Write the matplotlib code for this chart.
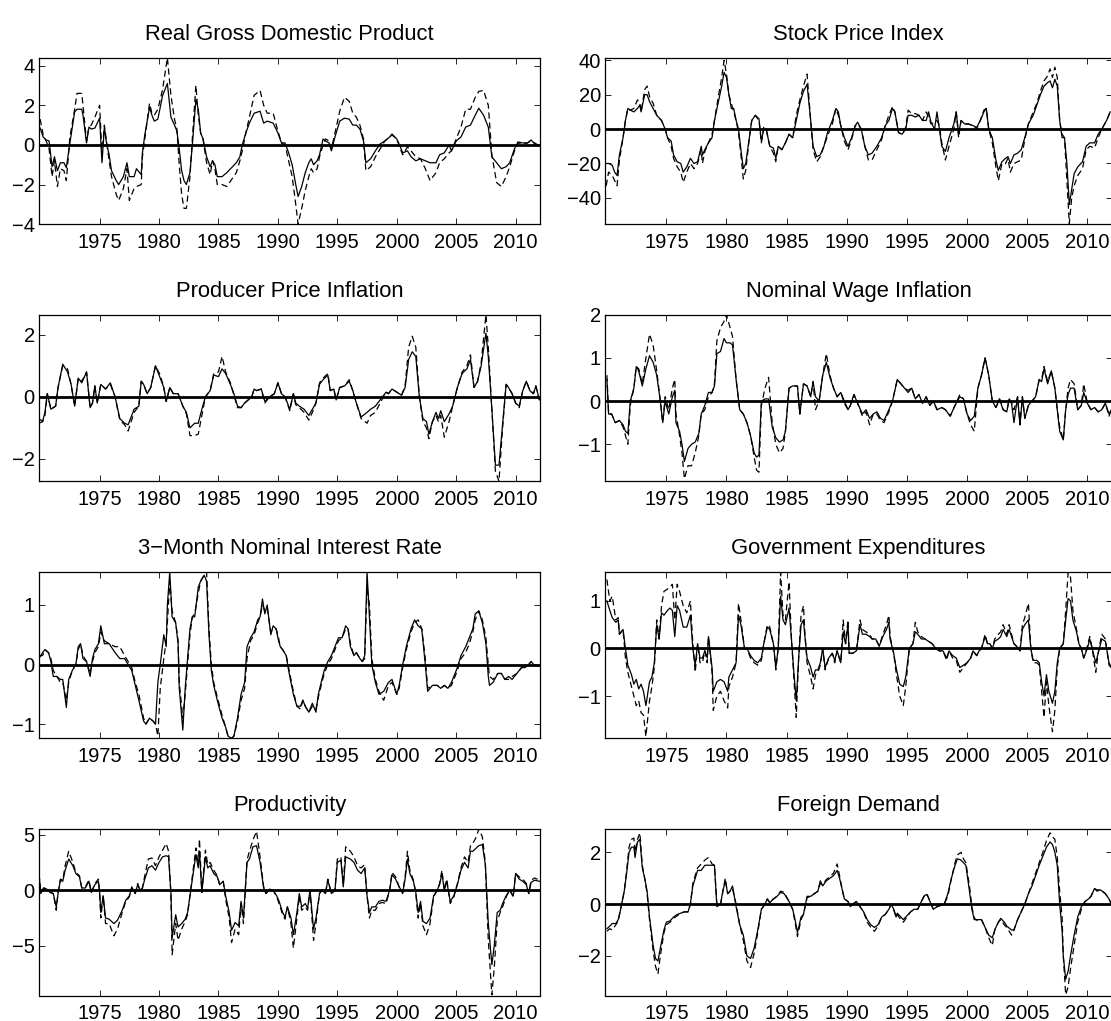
import matplotlib
matplotlib.use('Agg')
import matplotlib.pyplot as plt

plt.rcParams['font.family'] = ['Liberation Sans', 'DejaVu Sans']

# ---------------- Data ----------------
gdp_t = [1970.0,1970.25,1970.5,1970.75,1971.0,1971.2,1971.45,1971.7,1972.0,1972.2,
         1972.5,1972.9,1973.1,1973.5,1973.6,1973.9,1974.1,1974.3,1974.6,1974.8,
         1975.0,1975.2,1975.4,1975.55,1975.8,1976.0,1976.4,1976.6,1977.0,1977.3,
         1977.5,1977.9,1978.1,1978.5,1978.6,1978.8,1979.2,1979.4,1979.6,1979.9,
         1980.3,1980.7,1981.0,1981.3,1981.5,1981.7,1981.9,1982.1,1982.3,1982.6,
         1982.8,1983.1,1983.3,1983.5,1983.7,1984.0,1984.3,1984.5,1984.7,1984.9,
         1985.3,1985.7,1986.5,1986.8,1987.0,1987.3,1987.6,1988.0,1988.5,1988.8,
         1989.1,1989.6,1990.0,1990.3,1990.6,1990.9,1991.2,1991.5,1991.7,1992.0,
         1992.3,1992.6,1992.8,1993.0,1993.3,1993.5,1993.8,1994.0,1994.3,1994.5,
         1994.8,1995.2,1995.6,1996.0,1996.3,1996.6,1996.9,1997.2,1997.4,1997.8,
         1998.2,1998.6,1999.0,1999.4,1999.6,2000.0,2000.3,2000.5,2000.9,2001.2,
         2001.6,2002.0,2002.4,2002.8,2003.3,2003.6,2004.0,2004.4,2004.6,2005.0,
         2005.4,2005.8,2006.2,2006.6,2006.9,2007.3,2007.7,2008.0,2008.4,2008.8,
         2009.2,2009.5,2009.9,2010.2,2010.6,2011.0,2011.3,2011.6,2012.0]
gdp_solid = [0.85,0.4,0.25,0.2,-1.1,-0.6,-1.3,-0.9,-0.9,-1.15,
             0.1,1.67,1.8,1.8,1.5,0.1,0.9,0.8,0.85,1.1,
             1.35,-0.9,0.9,0.2,-0.5,-1.3,-1.8,-2.0,-1.6,-0.9,
             -1.6,-1.6,-1.2,-1.5,-0.4,0.5,1.9,1.5,1.2,1.3,
             2.5,3.1,1.4,1.0,0.7,-0.2,-1.3,-1.8,-2.0,-1.4,
             0.0,2.3,1.8,0.6,0.3,-0.6,-1.1,-0.8,-1.0,-1.6,
             -1.6,-1.4,-0.9,-0.6,0.0,0.6,1.1,1.6,1.7,1.1,
             1.2,1.1,0.6,0.1,0.1,-0.4,-1.0,-2.0,-2.6,-2.1,
             -1.4,-0.9,-0.7,-1.0,-0.8,-0.5,0.3,0.2,0.1,-0.3,
             0.4,1.2,1.35,1.3,1.0,1.0,0.8,0.2,-0.9,-0.7,
             -0.3,0.05,0.2,0.4,0.55,0.3,-0.1,-0.4,-0.3,-0.6,
             -0.8,-0.7,-0.8,-0.9,-0.9,-0.5,-0.4,0.0,-0.3,0.2,
             0.4,0.9,1.0,1.5,1.85,1.5,0.9,-0.6,-0.9,-1.2,
             -1.1,-0.9,-0.2,0.15,0.1,0.1,0.25,0.05,-0.05]
gdp_dashed = [1.3,0.5,0.2,-0.2,-1.6,-0.8,-2.1,-1.2,-1.3,-1.8,
              0.4,1.8,2.6,2.6,2.0,0.2,0.9,1.0,1.4,1.7,
              2.0,-0.5,1.0,0.3,-0.8,-1.6,-2.5,-2.8,-2.2,-1.2,
              -2.8,-2.2,-2.1,-2.0,-0.6,0.3,2.1,1.6,1.5,1.8,
              2.8,4.4,2.5,1.3,0.8,-1.0,-2.5,-3.2,-3.2,-1.6,
              0.3,3.0,1.5,0.6,0.3,-0.9,-1.5,-0.8,-1.2,-2.0,
              -2.0,-2.1,-1.4,-0.8,-0.3,0.6,1.4,2.5,2.75,2.0,
              1.6,1.6,0.7,0.1,0.0,-0.8,-1.6,-3.0,-4.0,-3.2,
              -2.3,-1.6,-1.2,-1.4,-1.2,-0.6,0.0,0.3,0.2,-0.2,
              0.6,1.7,2.4,2.2,1.6,1.4,1.0,0.3,-1.3,-1.1,
              -0.6,-0.2,0.2,0.4,0.5,0.3,-0.2,-0.5,-0.1,-0.3,
              -0.6,-0.7,-1.2,-1.8,-1.4,-0.9,-0.7,-0.4,-0.3,0.3,
              0.9,1.8,1.8,2.4,2.7,2.75,2.0,-0.5,-1.9,-2.1,
              -1.6,-1.1,-0.3,0.1,0.05,0.1,0.2,0.1,-0.05]

stock_t = [1970.0,1970.2,1970.5,1970.7,1970.9,1971.1,1971.4,1971.6,1971.8,1972.0,
           1972.3,1972.6,1972.8,1972.9,1973.2,1973.4,1973.6,1973.9,1974.2,1974.6,
           1974.9,1975.1,1975.4,1975.6,1975.9,1976.2,1976.4,1976.7,1977.0,1977.3,
           1977.6,1977.9,1978.0,1978.2,1978.5,1978.8,1979.0,1979.3,1979.6,1979.8,
           1980.0,1980.2,1980.4,1980.6,1980.8,1981.0,1981.2,1981.4,1981.6,1981.9,
           1982.1,1982.4,1982.7,1982.9,1983.1,1983.3,1983.6,1983.9,1984.1,1984.3,
           1984.6,1984.9,1985.2,1985.5,1985.8,1986.1,1986.4,1986.7,1987.0,1987.2,
           1987.5,1987.8,1988.1,1988.4,1988.8,1989.1,1989.3,1989.5,1989.8,1990.1,
           1990.4,1990.7,1990.9,1991.2,1991.5,1991.8,1992.1,1992.5,1992.9,1993.2,
           1993.5,1993.8,1994.0,1994.3,1994.6,1994.9,1995.1,1995.4,1995.7,1996.0,
           1996.3,1996.6,1996.8,1997.0,1997.3,1997.5,1997.7,1997.9,1998.2,1998.5,
           1998.9,1999.1,1999.3,1999.5,1999.8,2000.1,2000.5,2000.8,2001.1,2001.4,
           2001.6,2001.8,2002.1,2002.4,2002.6,2002.9,2003.2,2003.4,2003.6,2003.9,
           2004.2,2004.5,2004.8,2005.1,2005.5,2005.8,2006.1,2006.4,2006.7,2006.9,
           2007.1,2007.3,2007.5,2007.7,2007.9,2008.1,2008.3,2008.5,2008.7,2008.9,
           2009.2,2009.6,2009.9,2010.2,2010.6,2010.9,2011.2,2011.6,2011.9]
stock_solid = [-20,-20,-21,-25,-27,-15,-5,5,12,11,
               10,12,14,10,20,20,16,12,8,5,
               0,-5,-7,-15,-19,-20,-25,-22,-17,-20,
               -19,-10,-15,-12,-8,-5,5,15,25,33,
               30,20,12,12,5,0,-12,-23,-20,-5,
               5,8,6,-7,0,0,-10,-11,-17,-10,
               -12,-8,-3,-5,5,15,22,26,5,-10,
               -16,-15,-10,-2,5,12,10,2,-5,-10,
               -5,2,4,0,-10,-15,-14,-10,-5,2,
               5,12,10,-2,-3,0,8,8,7,8,
               5,5,10,4,0,10,0,-10,-13,-5,
               3,10,-3,5,3,3,2,1,5,10,
               12,0,-5,-18,-24,-19,-17,-16,-20,-15,
               -14,-12,-5,3,8,14,20,25,27,28,
               24,29,25,5,-5,-5,-20,-44,-35,-26,
               -22,-19,-10,-8,-8,-3,0,5,10]
stock_dashed = [-33,-25,-27,-30,-33,-18,-5,5,12,11,
                12,17,15,10,23,25,19,15,8,5,
                0,-5,-10,-17,-22,-25,-31,-25,-20,-23,
                -20,-12,-20,-13,-8,-3,5,18,30,40,
                32,20,15,10,5,-2,-15,-29,-24,-5,
                5,8,5,-8,1,0,-10,-14,-19,-10,
                -12,-8,-3,-5,8,17,25,32,5,-12,
                -19,-16,-10,-4,3,12,8,2,-7,-12,
                -6,2,3,0,-10,-18,-18,-12,-6,2,
                8,13,10,-2,-3,1,11,9,9,8,
                5,10,7,3,4,5,2,-8,-18,-10,
                0,10,-5,5,3,3,2,0,5,11,
                12,0,-8,-22,-30,-20,-20,-17,-25,-20,
                -19,-18,-6,3,10,15,22,28,31,35,
                30,36,30,5,-3,-5,-30,-55,-40,-33,
                -27,-23,-12,-10,-11,-5,0,5,10]

ppi_t = [1969.9,1970.2,1970.4,1970.6,1970.9,1971.3,1971.5,1971.9,1972.3,1972.6,
         1972.9,1973.2,1973.5,1973.9,1974.2,1974.4,1974.6,1974.8,1975.1,1975.5,
         1975.9,1976.3,1976.7,1977.1,1977.4,1977.9,1978.3,1978.5,1978.7,1979.0,
         1979.3,1979.7,1980.1,1980.4,1980.6,1980.9,1981.2,1981.6,1982.0,1982.3,
         1982.6,1983.0,1983.3,1983.6,1983.9,1984.3,1984.6,1985.0,1985.3,1985.6,
         1986.0,1986.3,1986.6,1986.9,1987.2,1987.5,1987.8,1988.0,1988.2,1988.6,
         1988.9,1989.3,1989.7,1990.0,1990.3,1990.6,1991.0,1991.3,1991.5,1991.8,
         1992.2,1992.6,1992.9,1993.2,1993.5,1993.8,1994.2,1994.4,1994.7,1994.9,
         1995.2,1995.6,1996.0,1996.3,1996.6,1997.0,1997.5,1997.8,1998.2,1998.6,
         1999.1,1999.3,1999.6,2000.0,2000.4,2000.7,2001.0,2001.3,2001.6,2001.9,
         2002.2,2002.5,2002.7,2003.0,2003.3,2003.5,2003.7,2004.0,2004.4,2004.7,
         2005.1,2005.5,2005.9,2006.2,2006.5,2006.8,2007.1,2007.5,2007.7,2008.0,
         2008.3,2008.6,2008.9,2009.2,2009.4,2009.7,2010.0,2010.3,2010.6,2010.9,
         2011.2,2011.5,2011.7,2012.0]
ppi_solid = [-0.7,-0.8,-0.5,0.1,-0.4,-0.3,0.3,1.05,0.8,0.4,
             -0.3,0.6,0.45,0.8,-0.35,-0.2,0.35,-0.2,0.4,0.25,
             0.45,0.0,-0.7,-0.85,-0.9,-0.4,-0.3,0.5,0.4,0.1,
             0.3,1.0,0.6,0.3,-0.15,0.3,0.1,0.1,-0.3,-0.5,
             -1.0,-0.85,-0.85,-0.4,0.0,0.2,0.7,0.65,0.9,0.75,
             0.4,0.1,-0.3,-0.35,-0.2,-0.1,0.0,0.25,0.2,0.25,
             -0.15,0.0,0.1,0.45,0.1,0.0,-0.4,0.1,-0.2,-0.3,
             -0.4,-0.6,-0.4,-0.2,0.4,0.55,0.7,0.2,0.25,-0.1,
             0.3,0.35,0.5,0.2,-0.2,-0.65,-0.5,-0.4,-0.3,-0.1,
             0.15,0.1,0.25,0.15,0.05,0.3,1.2,1.45,1.3,0.0,
             -0.7,-0.8,-1.2,-0.8,-0.5,-0.7,-0.45,-0.8,-0.55,-0.3,
             0.3,0.75,0.9,1.2,0.3,0.5,1.0,2.05,1.3,-0.4,
             -2.2,-2.2,-0.9,0.4,0.3,0.1,-0.2,-0.3,0.2,0.5,
             0.2,0.1,0.35,-0.1]
ppi_dashed = [-0.85,-0.8,-0.6,0.1,-0.4,-0.3,0.3,1.0,0.9,0.4,
              -0.3,0.6,0.5,0.8,-0.35,-0.2,0.35,-0.2,0.4,0.25,
              0.4,0.0,-0.75,-0.9,-1.1,-0.5,-0.3,0.5,0.4,0.1,
              0.3,1.0,0.7,0.3,-0.15,0.3,0.1,0.1,-0.3,-0.55,
              -1.25,-1.25,-1.2,-0.6,0.0,0.2,0.75,0.8,1.3,0.8,
              0.45,0.05,-0.35,-0.35,-0.2,-0.1,0.0,0.25,0.2,0.25,
              -0.2,0.0,0.1,0.45,0.1,0.0,-0.45,0.1,-0.25,-0.35,
              -0.5,-0.75,-0.5,-0.2,0.45,0.6,0.75,0.2,0.25,-0.1,
              0.3,0.35,0.55,0.2,-0.2,-0.7,-0.85,-0.6,-0.5,-0.2,
              0.15,0.1,0.25,0.15,0.05,0.35,1.6,1.95,1.6,0.0,
              -0.8,-1.0,-1.35,-0.8,-0.6,-0.8,-0.6,-1.3,-0.8,-0.3,
              0.3,0.8,1.0,1.35,0.3,0.5,1.1,2.64,1.6,-0.4,
              -2.4,-2.72,-1.0,0.4,0.3,0.1,-0.2,-0.35,0.2,0.5,
              0.2,0.1,0.35,-0.1]

wage_t = [1970.06,1970.2,1970.45,1970.75,1971.1,1971.4,1971.6,1971.8,1972.0,1972.3,
          1972.5,1972.7,1973.0,1973.3,1973.6,1973.9,1974.2,1974.5,1974.7,1974.9,
          1975.2,1975.5,1975.7,1975.8,1976.1,1976.3,1976.5,1976.8,1977.1,1977.4,
          1977.7,1977.9,1978.2,1978.5,1978.8,1979.0,1979.2,1979.5,1979.8,1980.0,
          1980.3,1980.5,1980.8,1981.1,1981.4,1981.7,1982.0,1982.3,1982.5,1982.7,
          1982.9,1983.2,1983.5,1983.8,1984.1,1984.4,1984.7,1984.9,1985.2,1985.5,
          1985.9,1986.1,1986.4,1986.7,1987.0,1987.2,1987.4,1987.7,1988.0,1988.3,
          1988.6,1988.9,1989.2,1989.5,1989.8,1990.1,1990.3,1990.6,1990.9,1991.3,
          1991.6,1991.9,1992.2,1992.5,1992.8,1993.1,1993.5,1993.8,1994.2,1994.5,
          1994.8,1995.1,1995.4,1995.7,1996.0,1996.3,1996.6,1996.9,1997.2,1997.5,
          1997.9,1998.2,1998.6,1999.0,1999.4,1999.7,2000.0,2000.3,2000.6,2000.9,
          2001.2,2001.5,2001.8,2002.1,2002.4,2002.7,2003.0,2003.3,2003.5,2003.7,
          2003.9,2004.2,2004.4,2004.6,2004.8,2005.1,2005.4,2005.7,2006.0,2006.2,
          2006.4,2006.7,2007.0,2007.3,2007.5,2007.7,2008.0,2008.2,2008.4,2008.6,
          2008.9,2009.2,2009.5,2009.7,2010.0,2010.3,2010.6,2010.9,2011.2,2011.5,
          2011.8,2012.0]
wage_solid = [0.5,-0.3,-0.3,-0.5,-0.45,-0.55,-0.7,-0.75,0.0,0.3,
              0.8,0.7,0.35,0.75,1.05,0.9,0.6,0.0,-0.5,0.0,
              -0.3,0.1,0.25,-0.5,-0.7,-1.0,-1.4,-1.1,-1.0,-0.95,
              -0.75,-0.3,-0.1,0.2,0.2,0.35,1.1,1.15,1.45,1.35,
              1.35,1.3,0.5,-0.2,-0.3,-0.5,-0.8,-1.2,-1.3,-1.25,
              0.0,0.05,0.05,-0.6,-0.85,-0.95,-0.9,-0.7,0.3,0.35,
              0.35,-0.3,0.4,0.35,0.1,0.45,0.1,0.0,0.6,0.9,
              0.55,0.3,0.1,0.2,0.0,-0.2,-0.1,0.15,-0.05,-0.3,
              -0.2,-0.4,-0.3,-0.25,-0.4,-0.45,-0.2,0.0,0.5,0.4,
              0.3,0.2,0.3,0.05,0.15,-0.05,0.1,-0.1,0.0,-0.2,
              -0.15,-0.2,-0.35,-0.1,0.1,0.05,-0.3,-0.45,-0.35,0.3,
              0.6,1.0,0.6,0.0,-0.15,0.05,-0.2,-0.25,0.05,-0.05,
              -0.5,0.1,-0.55,0.1,-0.4,-0.1,0.0,0.1,0.5,0.45,
              0.75,0.4,0.7,0.3,-0.2,-0.7,-0.9,-0.2,0.15,0.3,
              0.3,-0.2,-0.1,0.2,-0.05,-0.2,-0.15,-0.25,-0.2,-0.05,
              -0.3,-0.2]
wage_dashed = [0.6,-0.3,-0.3,-0.5,-0.45,-0.6,-0.8,-1.0,-0.1,0.3,
               0.8,0.75,0.4,1.0,1.55,1.3,0.7,0.0,-0.5,0.1,
               -0.2,0.3,0.5,-0.3,-0.8,-1.2,-1.8,-1.5,-1.5,-1.2,
               -0.8,-0.3,-0.2,0.1,0.2,0.4,1.4,1.7,1.85,2.0,
               1.7,1.5,0.5,-0.2,-0.3,-0.5,-0.8,-1.3,-1.6,-1.65,
               -0.1,0.3,0.55,-0.5,-1.0,-1.2,-1.1,-0.7,0.3,0.35,
               0.35,-0.3,0.4,0.35,0.1,0.45,-0.2,0.0,0.6,1.1,
               0.6,0.3,0.1,0.2,-0.05,-0.2,-0.1,0.15,-0.05,-0.35,
               -0.25,-0.55,-0.3,-0.3,-0.45,-0.5,-0.25,0.0,0.5,0.4,
               0.3,0.25,0.3,0.05,0.15,-0.05,0.1,-0.1,0.0,-0.2,
               -0.15,-0.2,-0.35,-0.1,0.15,0.05,-0.3,-0.55,-0.7,0.3,
               0.6,1.0,0.6,0.0,-0.15,0.05,-0.2,-0.25,0.05,-0.05,
               -0.2,0.1,-0.55,0.1,-0.4,-0.1,0.0,0.1,0.5,0.5,
               0.8,0.45,0.7,0.3,-0.2,-0.6,-0.9,-0.2,0.3,0.5,
               0.4,-0.2,-0.1,0.4,-0.05,-0.2,-0.15,-0.25,-0.2,-0.05,
               -0.35,-0.2]

rate_t = [1969.9,1970.2,1970.4,1970.7,1970.9,1971.1,1971.4,1971.7,1971.9,1972.2,
          1972.4,1972.7,1973.0,1973.2,1973.4,1973.6,1973.9,1974.2,1974.4,1974.6,
          1974.9,1975.1,1975.4,1975.8,1976.3,1976.7,1977.1,1977.4,1977.7,1978.0,
          1978.3,1978.7,1978.9,1979.2,1979.5,1979.7,1979.9,1980.1,1980.4,1980.6,
          1980.7,1980.9,1981.1,1981.4,1981.6,1981.7,1982.0,1982.2,1982.4,1982.6,
          1982.8,1983.0,1983.3,1983.5,1983.8,1984.0,1984.2,1984.4,1984.6,1984.9,
          1985.3,1985.6,1985.8,1986.1,1986.3,1986.6,1986.9,1987.2,1987.4,1987.7,
          1988.0,1988.3,1988.5,1988.7,1988.9,1989.1,1989.4,1989.6,1989.85,1990.05,
          1990.2,1990.4,1990.7,1990.9,1991.3,1991.6,1991.9,1992.1,1992.3,1992.6,
          1992.9,1993.2,1993.4,1993.7,1993.9,1994.2,1994.5,1994.8,1995.1,1995.4,
          1995.7,1995.9,1996.1,1996.4,1996.6,1996.9,1997.1,1997.3,1997.5,1997.7,
          1997.9,1998.2,1998.5,1998.9,1999.3,1999.6,2000.0,2000.2,2000.5,2000.8,
          2001.2,2001.5,2001.8,2002.1,2002.4,2002.6,2003.0,2003.4,2003.7,2004.0,
          2004.3,2004.6,2005.1,2005.4,2005.8,2006.1,2006.4,2006.6,2006.9,2007.2,
          2007.5,2007.7,2007.8,2008.1,2008.5,2008.8,2009.1,2009.4,2009.7,2010.1,
          2010.5,2010.8,2011.1,2011.3,2011.6,2012.0]
rate_solid = [0.1,0.2,0.25,0.2,0.05,-0.2,-0.2,-0.25,-0.25,-0.72,
              -0.25,-0.1,0.0,0.3,0.35,0.1,0.05,-0.2,0.1,0.25,
              0.35,0.65,0.35,0.35,0.2,0.1,0.1,0.0,-0.1,-0.35,
              -0.6,-0.95,-1.0,-0.9,-0.95,-1.0,-0.3,0.0,0.5,0.3,
              1.0,1.55,0.8,0.7,0.35,-0.4,-1.1,-0.4,0.1,0.6,
              0.8,0.8,1.3,1.4,1.5,1.4,0.5,-0.1,-0.35,-0.6,
              -0.9,-1.05,-1.2,-1.24,-1.2,-0.9,-0.5,-0.3,0.3,0.45,
              0.55,0.75,0.8,1.1,0.85,1.0,0.5,0.65,0.6,0.4,
              0.3,0.25,0.15,-0.1,-0.5,-0.7,-0.7,-0.6,-0.7,-0.8,
              -0.65,-0.8,-0.5,-0.25,-0.1,0.05,0.15,0.3,0.45,0.45,
              0.65,0.6,0.3,0.15,0.2,0.1,0.05,0.15,1.55,0.8,
              0.0,-0.3,-0.5,-0.45,-0.3,-0.25,-0.5,-0.35,0.0,0.3,
              0.6,0.75,0.65,0.6,0.0,-0.45,-0.35,-0.35,-0.4,-0.35,
              -0.4,-0.3,-0.05,0.15,0.3,0.45,0.6,0.85,0.9,0.7,
              0.35,-0.2,-0.35,-0.3,-0.15,-0.15,-0.25,-0.2,-0.25,-0.15,
              -0.05,-0.05,0.0,0.05,-0.02,-0.02]
rate_dashed = [0.15,0.15,0.25,0.2,0.1,-0.1,-0.2,-0.3,-0.3,-0.6,
               -0.3,-0.1,0.0,0.25,0.35,0.15,0.05,-0.15,0.05,0.2,
               0.3,0.55,0.4,0.35,0.3,0.3,0.15,0.05,-0.05,-0.3,
               -0.5,-0.9,-1.0,-0.9,-0.95,-1.0,-1.2,-0.4,0.1,0.4,
               0.7,1.4,0.9,0.7,0.4,-0.3,-0.9,-0.5,0.0,0.5,
               0.8,0.85,1.2,1.4,1.5,1.55,0.6,0.0,-0.3,-0.55,
               -0.85,-1.05,-1.2,-1.24,-1.2,-0.95,-0.6,-0.4,0.1,0.4,
               0.5,0.7,0.8,1.0,0.9,0.95,0.55,0.6,0.6,0.45,
               0.3,0.25,0.15,-0.05,-0.45,-0.7,-0.75,-0.6,-0.7,-0.8,
               -0.7,-0.75,-0.55,-0.3,-0.15,0.0,0.1,0.25,0.4,0.45,
               0.6,0.6,0.35,0.15,0.2,0.1,0.05,0.1,1.3,1.0,
               0.1,-0.25,-0.45,-0.6,-0.35,-0.3,-0.5,-0.4,-0.05,0.25,
               0.55,0.7,0.75,0.6,0.1,-0.4,-0.35,-0.35,-0.4,-0.35,
               -0.4,-0.35,-0.1,0.1,0.2,0.35,0.55,0.75,0.9,0.75,
               0.45,0.0,-0.2,-0.25,-0.15,-0.15,-0.25,-0.25,-0.2,-0.15,
               -0.05,-0.05,0.0,0.05,0.0,-0.02]

gov_t = [1970.06,1970.3,1970.5,1970.8,1971.0,1971.1,1971.4,1971.6,1971.8,1972.1,
         1972.3,1972.5,1972.7,1972.9,1973.1,1973.3,1973.6,1973.8,1974.0,1974.2,
         1974.4,1974.6,1974.8,1975.1,1975.3,1975.5,1975.7,1975.9,1976.1,1976.4,
         1976.7,1977.0,1977.2,1977.4,1977.6,1977.8,1978.0,1978.2,1978.4,1978.5,
         1978.8,1978.9,1979.2,1979.5,1979.8,1980.1,1980.2,1980.5,1980.6,1980.8,
         1981.0,1981.2,1981.5,1981.7,1982.0,1982.3,1982.6,1982.9,1983.1,1983.4,
         1983.6,1983.9,1984.1,1984.3,1984.5,1984.7,1984.9,1985.2,1985.4,1985.6,
         1985.8,1986.0,1986.2,1986.4,1986.5,1986.7,1987.0,1987.2,1987.4,1987.6,
         1987.8,1988.0,1988.2,1988.5,1988.8,1989.0,1989.2,1989.5,1989.7,1989.9,
         1990.1,1990.2,1990.5,1990.8,1991.1,1991.3,1991.6,1991.9,1992.1,1992.4,
         1992.7,1993.0,1993.3,1993.5,1993.6,1993.9,1994.1,1994.4,1994.7,1994.9,
         1995.2,1995.5,1995.7,1995.9,1996.2,1996.5,1996.8,1997.1,1997.4,1997.7,
         1998.0,1998.3,1998.5,1998.8,1999.1,1999.4,1999.7,2000.0,2000.3,2000.5,
         2000.8,2001.0,2001.2,2001.5,2001.7,2001.9,2002.1,2002.3,2002.6,2002.8,
         2003.0,2003.3,2003.5,2003.7,2003.9,2004.1,2004.4,2004.6,2004.8,2005.1,
         2005.3,2005.5,2005.8,2006.0,2006.2,2006.4,2006.6,2006.8,2007.1,2007.3,
         2007.5,2007.7,2008.0,2008.2,2008.4,2008.6,2008.8,2009.1,2009.3,2009.5,
         2009.7,2010.0,2010.2,2010.4,2010.7,2010.9,2011.2,2011.5,2011.8,2012.0]
gov_solid = [1.0,0.8,0.65,0.55,0.6,0.3,0.4,0.0,-0.35,-0.55,
             -0.75,-0.65,-0.85,-0.75,-0.9,-1.2,-0.7,-0.6,-0.3,0.5,
             0.2,0.75,0.7,0.8,0.85,0.8,0.25,0.9,0.8,0.45,
             0.45,0.7,0.0,-0.35,0.1,-0.2,-0.2,-0.05,-0.2,0.25,
             -0.4,-0.9,-0.7,-0.65,-0.7,-0.9,-0.6,-0.45,-0.4,-0.3,
             0.7,0.5,0.0,0.0,-0.15,-0.25,-0.3,-0.2,0.1,0.45,
             0.4,0.1,-0.4,0.0,1.1,0.6,0.5,0.85,0.2,-0.5,
             -1.1,-0.2,0.5,0.6,0.3,-0.2,-0.4,-0.6,-0.45,-0.45,
             -0.3,0.0,-0.4,-0.2,-0.1,-0.25,-0.05,-0.3,0.35,0.1,
             0.5,-0.1,-0.1,-0.05,0.5,0.3,0.3,0.25,0.2,0.2,
             0.05,0.25,0.4,0.55,0.2,-0.1,-0.4,-0.75,-0.8,-0.6,
             0.0,0.1,0.35,0.3,0.2,0.2,0.15,0.1,0.0,-0.05,
             -0.05,-0.2,-0.05,-0.15,-0.2,-0.4,-0.35,-0.3,-0.2,-0.05,
             -0.15,-0.05,0.0,0.25,0.1,0.1,0.0,0.15,0.2,0.25,
             0.4,0.25,0.4,0.25,0.1,0.05,-0.05,0.4,0.5,0.6,
             0.0,-0.25,-0.25,-0.3,-0.7,-1.0,-0.55,-0.9,-1.15,-0.9,
             -0.3,0.0,0.1,0.6,1.05,1.0,0.6,0.35,0.1,0.0,
             -0.2,0.0,0.2,0.0,-0.3,-0.1,0.2,0.15,-0.3,-0.4]
gov_dashed = [1.45,1.0,1.1,0.6,0.65,0.3,0.4,-0.2,-0.5,-0.8,
              -1.0,-1.2,-1.1,-1.35,-1.4,-1.85,-1.1,-0.8,-0.4,0.6,
              0.2,0.9,1.2,1.25,1.3,1.35,0.6,1.35,1.2,0.9,
              0.75,1.0,0.1,-0.5,0.1,-0.3,-0.3,-0.05,-0.3,0.25,
              -0.5,-1.3,-1.0,-0.9,-1.1,-1.25,-0.8,-0.6,-0.5,-0.3,
              0.95,0.6,0.0,0.0,-0.2,-0.3,-0.35,-0.25,0.1,0.5,
              0.45,0.1,-0.45,0.0,1.6,0.7,0.6,1.4,0.2,-0.6,
              -1.45,-0.2,0.7,0.9,0.4,-0.3,-0.6,-0.85,-0.55,-0.5,
              -0.35,0.0,-0.45,-0.2,-0.1,-0.3,-0.05,-0.3,0.6,0.1,
              0.6,-0.1,-0.1,-0.05,0.6,0.4,0.35,0.3,0.2,0.2,
              0.05,0.3,0.5,0.7,0.25,-0.1,-0.5,-1.0,-1.2,-0.8,
              0.0,0.1,0.55,0.35,0.25,0.2,0.15,0.1,0.0,-0.05,
              -0.05,-0.25,-0.05,-0.2,-0.25,-0.5,-0.4,-0.3,-0.2,-0.05,
              -0.15,-0.05,0.0,0.3,0.1,0.1,0.0,0.2,0.3,0.35,
              0.5,0.3,0.5,0.3,0.1,0.05,-0.05,0.5,0.65,0.95,
              0.0,-0.3,-0.3,-0.35,-0.9,-1.45,-0.7,-1.2,-1.75,-1.3,
              -0.4,0.0,0.1,0.8,1.6,1.5,0.8,0.4,0.1,0.0,
              -0.2,0.05,0.25,0.0,-0.5,-0.1,0.3,0.2,-0.35,-0.4]

prod_t = [1969.9,1970.05,1970.3,1970.55,1970.85,1971.1,1971.35,1971.5,1971.7,1971.9,
          1972.1,1972.4,1972.75,1973.0,1973.3,1973.5,1973.8,1974.1,1974.3,1974.6,
          1974.9,1975.0,1975.1,1975.3,1975.5,1975.8,1976.2,1976.5,1976.9,1977.2,
          1977.5,1977.7,1978.0,1978.2,1978.4,1978.6,1978.8,1979.1,1979.4,1979.7,
          1980.0,1980.3,1980.6,1980.8,1981.0,1981.1,1981.4,1981.6,1981.9,1982.2,
          1982.4,1982.6,1982.8,1983.1,1983.3,1983.4,1983.6,1983.9,1984.1,1984.3,
          1984.6,1984.9,1985.1,1985.4,1985.6,1985.9,1986.1,1986.4,1986.7,1986.9,
          1987.1,1987.4,1987.6,1987.9,1988.2,1988.5,1988.8,1989.0,1989.3,1989.6,
          1989.9,1990.1,1990.4,1990.6,1990.8,1991.1,1991.3,1991.6,1991.8,1992.0,
          1992.3,1992.5,1992.7,1993.0,1993.2,1993.5,1993.7,1994.0,1994.2,1994.5,
          1994.8,1995.0,1995.3,1995.5,1995.7,1996.1,1996.4,1996.7,1997.0,1997.3,
          1997.5,1997.7,1997.9,1998.2,1998.5,1998.8,1999.1,1999.4,1999.6,1999.9,
          2000.2,2000.5,2000.7,2000.9,2001.1,2001.4,2001.6,2001.8,2002.0,2002.2,
          2002.5,2002.8,2003.1,2003.4,2003.6,2003.8,2004.0,2004.2,2004.5,2004.8,
          2005.1,2005.4,2005.7,2006.0,2006.2,2006.4,2006.7,2006.9,2007.2,2007.45,
          2007.7,2008.0,2008.2,2008.45,2008.7,2008.9,2009.2,2009.5,2009.8,2010.0,
          2010.3,2010.6,2010.9,2011.1,2011.3,2011.6,2012.0]
prod_solid = [1.5,-0.3,0.2,0.1,-0.2,-0.3,-1.5,-0.3,0.9,0.8,
              1.8,2.8,2.2,1.5,1.2,0.2,0.2,0.8,-0.2,0.5,
              0.8,-0.2,-2.0,-0.5,-2.5,-2.6,-3.0,-2.7,-1.8,-0.9,
              -0.5,0.2,-0.3,0.5,0.0,0.2,1.0,2.0,2.2,1.8,
              2.5,3.0,3.1,3.0,-0.2,-4.3,-2.2,-3.3,-3.0,-2.6,
              -2.0,-0.5,1.0,3.2,2.0,3.5,-0.2,3.0,2.0,2.2,
              1.5,1.2,0.5,0.8,-0.5,-2.0,-3.6,-2.9,-3.2,-1.0,
              -2.5,2.5,2.8,3.9,4.0,2.5,0.2,-0.3,0.1,0.0,
              -0.5,-1.0,-2.0,-2.4,-1.5,-2.5,-4.0,-2.0,-0.3,-1.5,
              -1.2,-1.6,0.0,-3.5,-2.5,-0.3,0.0,-0.3,0.9,-0.3,
              0.0,2.5,2.7,0.3,3.0,2.8,2.5,1.8,1.5,2.0,
              -0.5,-2.0,-1.5,-1.5,-1.0,-0.9,-1.0,0.0,1.4,1.0,
              0.3,-0.2,1.0,2.8,1.5,0.8,-0.2,-2.0,-1.0,-2.8,
              -3.0,-2.5,-0.5,0.0,0.5,1.5,0.0,0.8,-1.0,-0.5,
              0.5,1.8,2.5,2.0,3.5,3.5,3.8,4.0,4.1,2.3,
              -3.0,-6.7,-5.0,-2.0,-1.8,-1.2,-0.5,0.0,-0.5,1.5,
              1.0,0.8,0.5,-0.3,0.7,0.9,0.8]
prod_dashed = [1.5,-0.2,0.2,0.1,-0.2,-0.3,-1.8,-0.3,1.0,0.9,
               2.2,3.5,2.5,1.6,1.3,0.2,0.3,0.9,-0.2,0.6,
               1.0,-0.2,-2.5,-0.5,-3.0,-3.0,-4.1,-3.5,-2.0,-1.0,
               -0.6,0.3,-0.3,0.6,0.0,0.2,1.3,2.8,2.9,2.2,
               3.0,3.6,4.2,3.5,-0.5,-5.8,-3.0,-4.5,-3.5,-2.8,
               -2.2,-0.5,1.2,3.8,2.2,4.6,-0.2,3.6,2.3,2.5,
               1.8,1.3,0.5,0.8,-0.8,-2.5,-4.7,-3.5,-4.0,-1.2,
               -3.0,2.7,3.5,4.5,5.3,3.0,0.3,-0.3,0.1,0.0,
               -0.6,-1.2,-2.2,-2.6,-1.5,-3.0,-5.2,-2.5,-0.5,-1.8,
               -1.5,-1.8,0.0,-4.5,-3.0,-0.3,0.0,-0.3,1.0,-0.3,
               0.0,2.8,3.0,0.5,3.9,3.5,3.0,2.2,2.0,2.3,
               -0.5,-2.5,-1.8,-1.8,-1.2,-1.1,-1.2,0.0,1.6,1.2,
               0.3,-0.3,1.2,3.5,1.8,0.9,-0.3,-2.5,-1.2,-3.2,
               -4.0,-3.0,-0.6,0.0,0.6,1.8,0.0,1.0,-1.2,-0.6,
               0.6,2.0,3.0,2.5,4.0,4.2,4.8,5.5,4.8,2.5,
               -4.5,-9.4,-7.0,-2.8,-2.0,-1.5,-0.6,0.0,-0.6,1.5,
               1.2,1.0,0.6,-0.3,0.9,1.1,0.9]

fd_t = [1970.06,1970.3,1970.5,1970.8,1971.0,1971.2,1971.5,1971.7,1971.9,1972.1,
        1972.3,1972.4,1972.6,1972.8,1973.0,1973.2,1973.4,1973.6,1973.9,1974.1,
        1974.3,1974.5,1974.8,1975.0,1975.3,1975.6,1975.9,1976.2,1976.5,1976.8,
        1977.0,1977.2,1977.4,1977.6,1977.9,1978.2,1978.5,1978.8,1979.0,1979.2,
        1979.5,1979.7,1979.9,1980.1,1980.3,1980.5,1980.8,1981.1,1981.4,1981.7,
        1982.0,1982.3,1982.6,1982.9,1983.2,1983.4,1983.6,1983.9,1984.2,1984.5,
        1984.8,1985.2,1985.5,1985.7,1985.9,1986.2,1986.4,1986.7,1987.0,1987.3,
        1987.6,1987.8,1988.0,1988.3,1988.6,1988.9,1989.2,1989.4,1989.6,1989.8,
        1990.1,1990.3,1990.5,1990.8,1991.1,1991.4,1991.7,1992.0,1992.3,1992.6,
        1992.9,1993.2,1993.5,1993.7,1993.9,1994.1,1994.2,1994.5,1994.7,1995.0,
        1995.3,1995.6,1995.9,1996.2,1996.5,1996.7,1997.0,1997.2,1997.5,1997.8,
        1998.1,1998.4,1998.7,1999.0,1999.2,1999.5,1999.7,1999.9,2000.2,2000.4,
        2000.6,2000.9,2001.2,2001.5,2001.8,2002.1,2002.3,2002.6,2002.8,2003.1,
        2003.3,2003.7,2003.9,2004.2,2004.5,2004.8,2005.1,2005.4,2005.7,2006.0,
        2006.3,2006.6,2006.9,2007.1,2007.3,2007.5,2007.7,2007.9,2008.0,2008.2,
        2008.4,2008.6,2008.9,2009.2,2009.5,2009.8,2010.1,2010.3,2010.6,2010.8,
        2011.1,2011.5,2011.8,2012.0]
fd_solid = [-0.95,-0.85,-0.75,-0.75,-0.6,-0.2,0.5,1.2,2.0,2.2,
            2.2,1.8,2.4,2.5,1.4,1.0,0.5,-0.5,-1.6,-2.1,
            -2.2,-1.7,-1.0,-0.7,-0.65,-0.5,-0.4,-0.35,-0.3,-0.3,
            0.0,0.7,1.0,1.3,1.3,1.5,1.5,1.5,1.5,-0.1,
            0.0,0.5,0.9,0.4,0.5,0.7,-0.1,-0.8,-1.2,-2.0,
            -2.1,-1.7,-1.0,-0.2,0.0,0.2,0.05,0.2,0.3,0.45,
            0.4,0.1,-0.2,-0.6,-1.1,-0.5,-0.4,0.3,0.3,0.4,
            0.5,0.9,0.7,0.9,1.0,1.1,1.3,1.0,0.6,0.2,
            0.1,-0.1,0.0,0.1,-0.1,-0.3,-0.6,-0.8,-0.9,-0.8,
            -0.5,-0.4,-0.2,0.0,-0.2,-0.5,-0.35,-0.5,-0.6,-0.45,
            -0.3,-0.2,-0.2,0.1,0.35,0.35,0.0,-0.2,-0.1,-0.05,
            0.0,0.4,1.0,1.5,1.75,1.7,1.6,1.5,0.5,-0.2,
            -0.6,-0.6,-0.6,-0.9,-1.2,-1.3,-1.0,-0.7,-0.55,-0.7,
            -0.85,-1.0,-1.0,-0.6,-0.3,0.0,0.4,0.7,1.1,1.5,
            1.85,2.2,2.4,2.3,2.0,1.5,0.0,-1.0,-2.0,-2.9,
            -2.6,-2.0,-1.2,-0.5,-0.1,0.1,0.2,0.3,0.6,0.5,
            0.55,0.4,0.2,0.0]
fd_dashed = [-1.05,-0.95,-1.0,-0.8,-0.65,-0.2,0.5,1.3,2.2,2.5,
             2.55,2.0,2.5,2.75,1.5,1.0,0.4,-0.6,-1.8,-2.4,
             -2.7,-2.0,-1.1,-0.8,-0.7,-0.55,-0.45,-0.35,-0.3,-0.3,
             0.0,0.8,1.1,1.4,1.55,1.7,1.8,1.55,1.5,0.0,
             -0.05,0.5,1.0,0.4,0.5,0.6,0.0,-0.8,-1.4,-2.2,
             -2.45,-1.9,-1.1,-0.2,0.0,0.2,0.05,0.2,0.3,0.5,
             0.45,0.1,-0.2,-0.7,-1.25,-0.6,-0.4,0.25,0.3,0.4,
             0.5,0.8,0.75,0.95,1.05,1.2,1.55,1.1,0.6,0.2,
             0.1,-0.1,0.0,0.1,-0.1,-0.3,-0.7,-0.9,-1.05,-0.85,
             -0.5,-0.4,-0.2,0.0,-0.2,-0.5,-0.4,-0.6,-0.7,-0.5,
             -0.3,-0.2,-0.2,0.1,0.4,0.35,0.0,-0.2,-0.1,-0.05,
             0.0,0.3,1.0,1.6,1.9,2.0,1.75,1.6,0.7,-0.1,
             -0.55,-0.65,-0.6,-0.9,-1.3,-1.6,-1.0,-0.7,-0.6,-0.8,
             -0.9,-1.2,-1.0,-0.6,-0.3,0.0,0.4,0.8,1.2,1.6,
             2.0,2.45,2.75,2.6,2.5,1.8,0.5,-0.5,-2.0,-3.5,
             -3.2,-2.5,-1.6,-0.7,-0.2,0.1,0.2,0.3,0.6,0.55,
             0.55,0.4,0.2,0.0]

titles = ["Real Gross Domestic Product", "Stock Price Index",
          "Producer Price Inflation", "Nominal Wage Inflation",
          "3\u2212Month Nominal Interest Rate", "Government Expenditures",
          "Productivity", "Foreign Demand"]
ylims = [(-4.0, 4.4), (-55.3, 41.5), (-2.72, 2.64), (-1.86, 2.0),
         (-1.24, 1.555), (-1.89, 1.61), (-9.46, 5.5), (-3.53, 2.9)]
yticks = [[-4, -2, 0, 2, 4], [-40, -20, 0, 20, 40], [-2, 0, 2], [-1, 0, 1, 2],
          [-1, 0, 1], [-1, 0, 1], [-5, 0, 5], [-2, 0, 2]]
xticks = [1975, 1980, 1985, 1990, 1995, 2000, 2005, 2010]

series = [(gdp_t, gdp_solid, gdp_dashed), (stock_t, stock_solid, stock_dashed),
          (ppi_t, ppi_solid, ppi_dashed), (wage_t, wage_solid, wage_dashed),
          (rate_t, rate_solid, rate_dashed), (gov_t, gov_solid, gov_dashed),
          (prod_t, prod_solid, prod_dashed), (fd_t, fd_solid, fd_dashed)]

# ---------------- Layout ----------------
W, H = 1111, 1021
fig = plt.figure(figsize=(W / 100, H / 100), dpi=100)
col_x = [(39, 501), (605, 507)]
row_top = [57.7, 314.8, 571.9, 829.0]
ax_h = 166.5

for i, (title, (t, s, d), yl, yt) in enumerate(zip(titles, series, ylims, yticks)):
    r, c = divmod(i, 2)
    x0, w = col_x[c]
    ax = fig.add_axes([x0 / W, 1 - (row_top[r] + ax_h) / H, w / W, ax_h / H])
    ax.axhline(0, color='k', lw=2.0, zorder=1)
    ax.plot(t, d, color='k', lw=0.9, ls=(0, (5, 3)), zorder=2)
    ax.plot(t, s, color='k', lw=0.9, zorder=3)
    ax.set_xlim(1969.9, 2012.05)
    ax.set_ylim(*yl)
    ax.set_xticks(xticks)
    ax.set_yticks(yt)
    ax.tick_params(direction='in', top=True, right=True, length=4, width=0.6,
                   labelsize=14.5, colors='k')
    ax.tick_params(axis='x', pad=6)
    ax.tick_params(axis='y', pad=3)
    for sp in ax.spines.values():
        sp.set_linewidth(0.9)
    ax.set_title(title, fontsize=15.8, pad=13)

fig.savefig('out.png', dpi=100)
